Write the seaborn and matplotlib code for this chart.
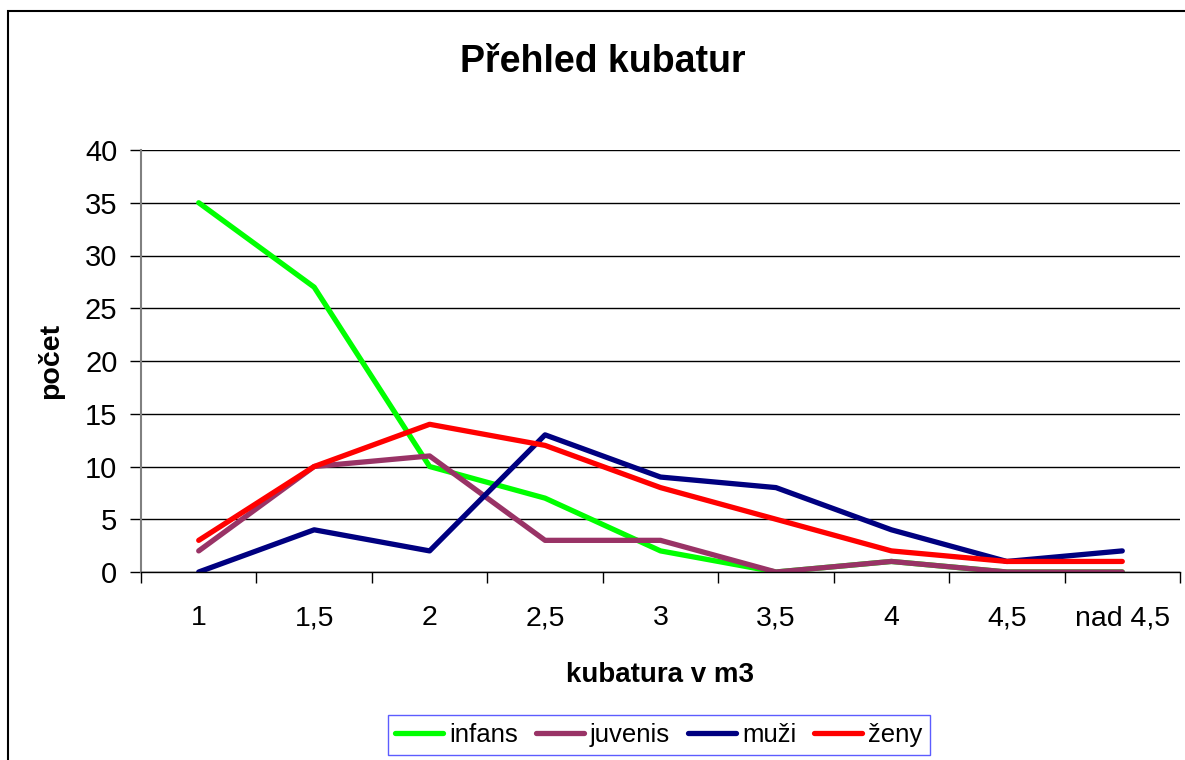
import seaborn as sns
import matplotlib.pyplot as plt
import matplotlib.ticker as mticker
from matplotlib.patches import Rectangle
import pandas as pd

kategorie = ["1", "1,5", "2", "2,5", "3", "3,5", "4", "4,5", "nad 4,5"]
infans = [35, 27, 10, 7, 2, 0, 1, 0, 0]
juvenis = [2, 10, 11, 3, 3, 0, 1, 0, 0]
muzi = [0, 4, 2, 13, 9, 8, 4, 1, 2]
zeny = [3, 10, 14, 12, 8, 5, 2, 1, 1]
serie = ["infans", "juvenis", "muži", "ženy"]
barvy = ["#00ff00", "#993366", "#000080", "#ff0000"]

rows = []
for name, vals in zip(serie, [infans, juvenis, muzi, zeny]):
    for i, v in enumerate(vals):
        rows.append({"pozice": i, "pocet": v, "skupina": name})
df = pd.DataFrame(rows)

sns.set_style("white")
plt.rcParams["font.family"] = ["Liberation Sans", "DejaVu Sans"]
plt.rcParams["lines.solid_capstyle"] = "round"
plt.rcParams["text.color"] = "black"
plt.rcParams["axes.labelcolor"] = "black"
plt.rcParams["xtick.color"] = "black"
plt.rcParams["ytick.color"] = "black"

fig = plt.figure(figsize=(11.85, 7.6), dpi=100)
ax = fig.add_axes([141 / 1185, 1 - 572 / 760, (1180 - 141) / 1185, (572 - 150) / 760])

sns.lineplot(data=df, x="pozice", y="pocet", hue="skupina", palette=barvy,
             linewidth=3.8, ax=ax, legend=False)

ax.set_xlim(-0.5, len(kategorie) - 0.5)
ax.set_ylim(0, 40)
ax.yaxis.set_major_locator(mticker.MultipleLocator(5))
ax.grid(axis="y", color="black", linewidth=1)
ax.set_axisbelow(True)

ax.set_xticks(range(len(kategorie)))
ax.set_xticklabels(kategorie)
ax.xaxis.set_minor_locator(mticker.FixedLocator([i - 0.5 for i in range(len(kategorie) + 1)]))
ax.tick_params(axis="x", which="major", length=0, pad=24, labelsize=20.5)
ax.tick_params(axis="x", which="minor", length=8, width=1, color="black", direction="out", bottom=True)
ax.tick_params(axis="y", length=8, width=1, color="black", direction="out", pad=9, labelsize=21, left=True)

for s in ["top", "right"]:
    ax.spines[s].set_visible(False)
ax.spines["left"].set_color("#808080")
ax.spines["left"].set_linewidth(1.5)
ax.spines["bottom"].set_color("black")
ax.spines["bottom"].set_linewidth(1)

ax.set_xlabel("kubatura v m3", fontsize=20, fontweight="bold", labelpad=22)
ax.set_ylabel("počet", fontsize=20.5, fontweight="bold", labelpad=15)

fig.text(603 / 1185, 1 - 62 / 760, "Přehled kubatur", fontsize=27, fontweight="bold",
         ha="center", va="center")

handles = [plt.Line2D([], [], color=c, linewidth=3.8) for c in barvy]
leg = fig.legend(handles, serie, loc="center", bbox_to_anchor=(659 / 1185, 1 - 735 / 760),
                 ncol=4, fontsize=18.5, frameon=True, fancybox=False, handlelength=1.85,
                 handletextpad=0.25, columnspacing=0.7, borderpad=0.3, borderaxespad=0)
leg.get_frame().set_edgecolor("#3333ff")
leg.get_frame().set_linewidth(1)

fig.patches.append(Rectangle((8 / 1185, -0.1), 1.2, 1 - 11 / 760 + 0.1, transform=fig.transFigure,
                             fill=False, edgecolor="black", linewidth=1.5))

fig.savefig("out.png", dpi=100)
